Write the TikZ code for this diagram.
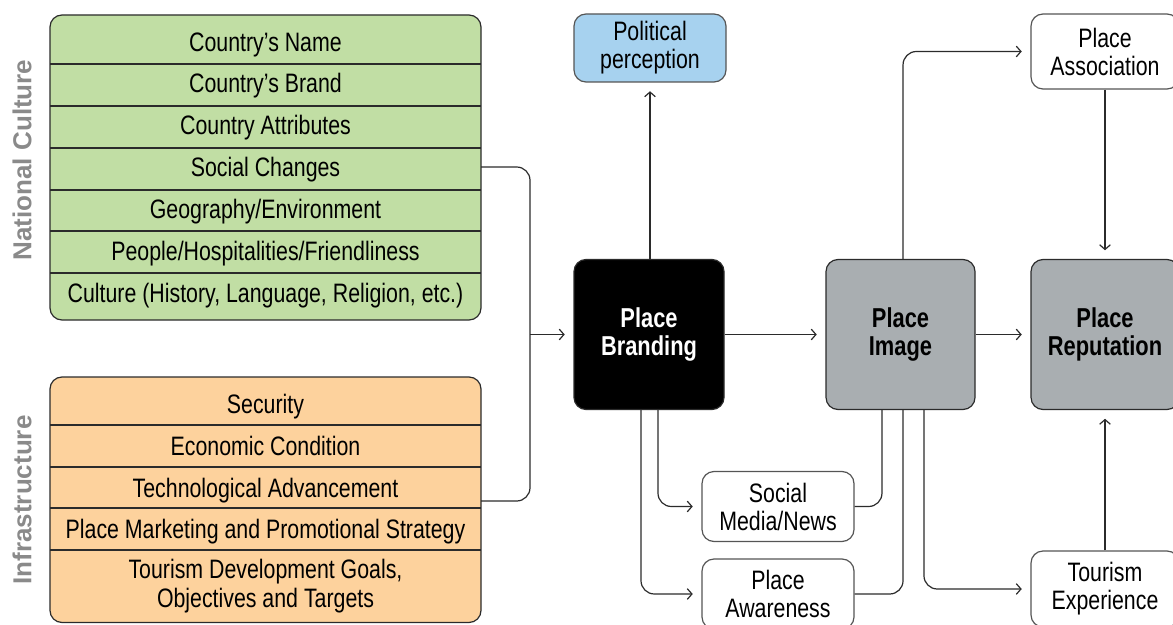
\documentclass[tikz,border=0pt]{standalone}
\usepackage{fontspec}
\setmainfont{Liberation Sans}
\newfontfamily\narrowfont{Liberation Sans}[FakeStretch=0.8]
\usepackage{tikz}
\usepackage{xcolor}
\usetikzlibrary{shapes, positioning, arrows.meta}

\definecolor{culturegreen}{HTML}{C1DEA4}
\definecolor{infraorange}{HTML}{FDD29D}
\definecolor{politicblue}{HTML}{A7D2EF}
\definecolor{boxgray}{HTML}{A9AEB1}
\definecolor{labelgray}{HTML}{8A8A8A}
\definecolor{linegray}{HTML}{2B2B2B}

\tikzset{
    listtext/.style={align=center, inner sep=0pt, font=\narrowfont\fontsize{20}{22}\selectfont},
    rowtext/.style={listtext, text height=14.3pt, text depth=0pt},
    sidelabel/.style={rotate=90, text=labelgray, font=\bfseries\fontsize{19.5}{22}\selectfont},
    bigbox/.style={draw=linegray, rounded corners=9pt, minimum height=112.5pt, align=center,
        font=\narrowfont\bfseries\fontsize{20.5}{20.5}\selectfont},
    smallbox/.style={draw=linegray!80, fill=white, rounded corners=9pt, align=center, inner sep=0pt,
        font=\narrowfont\fontsize{20}{21}\selectfont},
    link/.style={draw=linegray, line width=0.9pt, rounded corners=10pt},
    arr/.style={link, -{Straight Barb[length=3.5pt, width=8pt]}, shorten >=6.5pt},
}

\begin{document}
\begin{tikzpicture}[x=0.75pt, y=-0.75pt, line width=0.9pt]
        \useasboundingbox (0, 0) rectangle (1173, 624);

        % national culture list
        \draw[fill=culturegreen, draw=linegray, rounded corners=9pt] (50, 15) rectangle (481, 320);
        \foreach \y in {64, 106, 148, 190, 231, 273} {
            \draw[linegray] (50, \y) -- (481, \y);
        }
        \foreach \y/\t [count=\i] in {41.7/Country’s Name, 83.3/Country’s Brand, 125/Country Attributes,
            167/Social Changes, 209/Geography\slash Environment, 251/People\slash Hospitalities\slash Friendliness,
            293/{Culture (History, Language, Religion, etc.)}} {
            \node[rowtext] (nc\i) at (265.5, \y) {\t};
        }

        % infrastructure list
        \draw[fill=infraorange, draw=linegray, rounded corners=9pt] (50, 377) rectangle (481, 622.5);
        \foreach \y in {425, 467, 508, 550} {
            \draw[linegray] (50, \y) -- (481, \y);
        }
        \foreach \y/\t [count=\i] in {404/Security, 446/Economic Condition, 488/Technological Advancement,
            529/Place Marketing and Promotional Strategy} {
            \node[rowtext] (in\i) at (265.5, \y) {\t};
        }
        \node[listtext] (in5) at (265.5, 586) {Tourism Development Goals,\\ Objectives and Targets};

        \node[sidelabel] (natlabel) at (22, 160) {National Culture};
        \node[sidelabel] (inflabel) at (22, 500) {Infrastructure};

        % main boxes
        \node[bigbox, fill=black, text=white, minimum width=112.5pt] (brand) at (649, 334.5) {Place\\Branding};
        \node[bigbox, fill=boxgray, minimum width=111.75pt] (image) at (900.5, 334.5) {Place\\Image};
        \node[bigbox, fill=boxgray, minimum width=111pt] (reput) at (1105, 334.5) {Place\\Reputation};

        \node[smallbox, fill=politicblue, minimum width=114pt, minimum height=51pt] (polit) at (650, 48) {Political\\perception};
        \node[smallbox, minimum width=111pt, minimum height=56.25pt] (assoc) at (1105, 51.5) {Place\\Association};
        \node[smallbox, minimum width=111pt, minimum height=57pt] (touri) at (1105, 589) {Tourism\\Experience};
        \node[smallbox, minimum width=114pt, minimum height=52.5pt] (social) at (778, 506.5) {Social\\Media/News};
        \node[smallbox, minimum width=114pt, minimum height=52.5pt] (aware) at (778, 594) {Place\\Awareness};

        % connectors
        \coordinate (jmid) at (530, 334.5);
        \coordinate (jlow) at (481, 501);
        \draw[link] (nc4.east -| jlow) -| (jmid) |- (jlow);
        \draw[arr] (jmid) -- (brand.west);

        \draw[arr] (brand.north -| polit.south) -- (polit.south);
        \draw[arr] (brand) -- (image);
        \draw[arr] (image) -- (reput);
        \draw[arr] (assoc) -- (reput);
        \draw[arr] (touri) -- (reput);

        \draw[arr] ([xshift=6.75pt]brand.south) |- (social.west);
        \draw[arr] ([xshift=-6pt]brand.south) |- (aware.west);
        \draw[link] (social.east) -| ([xshift=-13.9pt]image.south);
        \draw[link] (aware.east) -| ([xshift=1.9pt]image.south);
        \draw[arr] ([xshift=17.6pt]image.south) |- (touri.west);
        \draw[arr] ([xshift=1.9pt]image.north) |- (assoc.west);
    \end{tikzpicture}
\end{document}
